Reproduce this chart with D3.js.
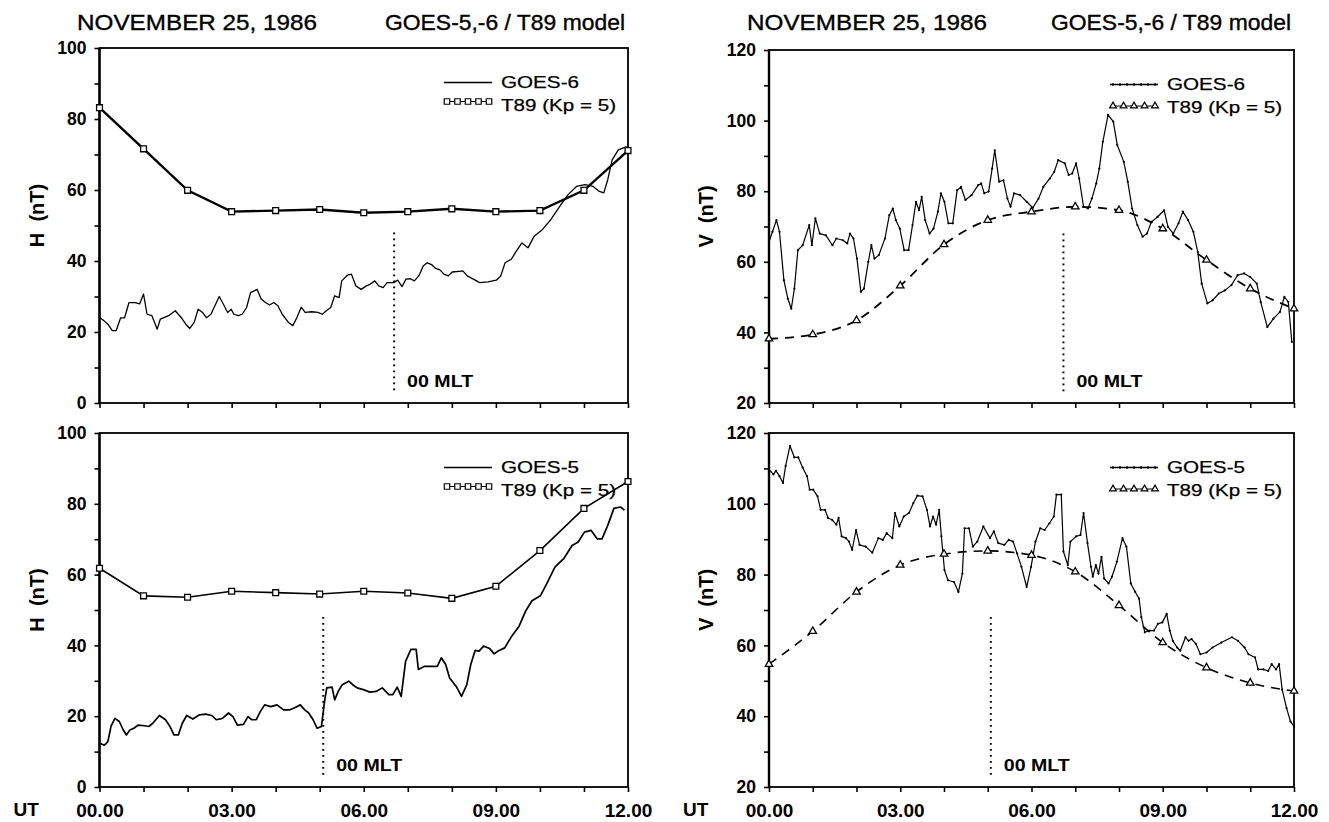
<!DOCTYPE html>
<html>
<head>
<meta charset="utf-8">
<script src="https://cdn.jsdelivr.net/npm/d3@7"></script>
<style>
  body { margin: 0; background: #fff; }
  svg { display: block; font-family: "Liberation Sans", Arial, Helvetica, sans-serif; }
</style>
</head>
<body>
<div id="chart"></div>
<script>
// ---- Daten ----
const hourTicks = [0, 1, 2, 3, 4, 5, 6, 7, 8, 9, 10, 11, 12];
const hourLabels = [0, 3, 6, 9, 12];
const hTicks = [0, 10, 20, 30, 40, 50, 60, 70, 80, 90, 100];
const vTicks = [20, 30, 40, 50, 60, 70, 80, 90, 100, 110, 120];

const t89Hours = [0, 1, 2, 3, 4, 5, 6, 7, 8, 9, 10, 11, 12];
const t89H6 = [83.2, 71.6, 59.9, 53.9, 54.2, 54.5, 53.6, 53.9, 54.7, 53.9, 54.2, 59.9, 71.1];
const t89H5 = [61.8, 54.0, 53.6, 55.3, 54.9, 54.5, 55.3, 54.8, 53.3, 56.7, 66.8, 78.7, 86.3];
const t89V6 = [38.2, 39.4, 43.4, 53.2, 64.9, 71.8, 74.2, 75.6, 74.6, 69.4, 60.5, 52.4, 46.7];
const t89V5 = [54.7, 64.0, 75.1, 82.7, 85.8, 86.7, 85.5, 80.8, 71.3, 60.8, 53.7, 49.4, 47.1];

// [UT Stunde, nT]
const goes6H = [[0,24.1],[0.10,23.2],[0.19,22.2],[0.29,20.4],[0.38,20.4],[0.48,24.0],[0.57,24.0],[0.67,28.3],[0.81,28.3],[0.91,27.9],[1.00,30.7],[1.08,25.0],[1.19,24.6],[1.31,20.8],[1.38,23.6],[1.57,24.6],[1.72,26.0],[1.86,24.0],[1.96,22.2],[2.05,21.0],[2.15,22.7],[2.24,26.4],[2.34,25.5],[2.43,24.0],[2.53,25.0],[2.62,27.4],[2.72,30.0],[2.81,27.9],[2.91,25.5],[2.99,26.4],[3.05,25.0],[3.15,24.6],[3.24,25.0],[3.34,26.9],[3.43,31.1],[3.58,32.0],[3.67,29.3],[3.77,28.3],[3.86,27.6],[3.96,28.3],[4.05,27.4],[4.15,25.0],[4.29,22.7],[4.39,21.8],[4.48,24.0],[4.58,27.0],[4.67,25.5],[4.82,25.7],[4.96,25.5],[5.06,25.0],[5.15,26.0],[5.25,26.9],[5.34,30.2],[5.44,29.7],[5.50,34.4],[5.63,36.0],[5.72,36.3],[5.82,33.0],[5.94,32.0],[6.06,33.0],[6.15,33.5],[6.25,34.4],[6.34,33.0],[6.44,32.5],[6.53,33.9],[6.68,33.9],[6.77,34.6],[6.87,32.8],[6.96,34.9],[7.06,35.0],[7.15,34.4],[7.25,35.8],[7.35,38.6],[7.44,39.5],[7.54,39.0],[7.63,37.9],[7.73,37.5],[7.82,36.3],[7.92,35.8],[8.01,36.9],[8.16,37.1],[8.25,37.2],[8.35,35.8],[8.49,34.9],[8.63,33.9],[8.82,34.1],[9.01,34.6],[9.11,35.8],[9.21,39.5],[9.35,40.5],[9.44,42.3],[9.59,45.1],[9.73,43.7],[9.87,47.0],[10.06,48.9],[10.25,51.7],[10.45,55.4],[10.64,58.7],[10.83,61.0],[11.02,61.5],[11.21,61.0],[11.35,59.6],[11.45,59.2],[11.54,62.9],[11.64,68.5],[11.78,71.3],[11.88,71.8],[11.97,72.2]];

const goes5H = [[0.02,12.3],[0.11,11.8],[0.19,12.8],[0.26,17.1],[0.35,19.4],[0.45,18.5],[0.54,16.1],[0.61,14.7],[0.69,16.1],[0.78,16.6],[0.88,17.5],[1.02,17.3],[1.12,17.1],[1.21,18.0],[1.36,20.2],[1.50,19.0],[1.60,17.1],[1.69,14.7],[1.79,14.7],[1.88,18.0],[1.98,20.2],[2.12,19.2],[2.27,20.4],[2.41,20.6],[2.55,20.2],[2.65,19.0],[2.79,19.4],[2.93,20.9],[3.03,19.9],[3.13,17.5],[3.27,17.7],[3.37,19.9],[3.46,19.0],[3.56,19.0],[3.65,21.3],[3.75,23.2],[3.89,22.7],[4.03,23.2],[4.18,21.8],[4.32,21.8],[4.42,22.3],[4.56,23.2],[4.66,21.8],[4.75,20.9],[4.85,19.0],[4.94,16.6],[5.04,17.1],[5.11,24.2],[5.16,28.0],[5.28,28.2],[5.34,24.6],[5.42,27.0],[5.51,28.9],[5.66,29.9],[5.75,28.9],[5.85,28.0],[5.99,27.5],[6.14,26.8],[6.28,27.0],[6.42,28.0],[6.57,26.1],[6.66,26.1],[6.76,28.2],[6.85,25.6],[6.95,35.5],[7.07,38.9],[7.19,38.9],[7.24,33.2],[7.38,34.1],[7.52,34.1],[7.67,34.1],[7.76,36.5],[7.86,34.6],[7.95,30.8],[8.10,28.4],[8.22,25.6],[8.34,28.9],[8.43,34.6],[8.53,38.6],[8.62,38.4],[8.72,39.8],[8.86,39.1],[8.96,37.6],[9.05,38.4],[9.20,39.3],[9.34,42.2],[9.53,45.5],[9.68,49.8],[9.82,52.6],[10.01,54.0],[10.15,57.3],[10.34,62.1],[10.54,64.5],[10.73,68.2],[10.87,69.2],[11.01,72.0],[11.16,72.5],[11.30,70.1],[11.41,70.1],[11.54,73.9],[11.68,78.7],[11.83,79.1],[11.92,78.2]];

const goes6V = [[0,65.7],[0.08,68.5],[0.17,71.8],[0.24,68.5],[0.34,54.8],[0.43,49.6],[0.51,46.7],[0.58,52.4],[0.66,63.3],[0.77,64.7],[0.92,70.4],[0.98,64.7],[1.06,72.3],[1.16,68.0],[1.30,67.5],[1.45,64.7],[1.54,66.6],[1.69,66.1],[1.79,65.2],[1.85,68.0],[1.93,66.6],[2.01,60.9],[2.10,51.5],[2.17,52.4],[2.27,60.0],[2.34,64.7],[2.41,60.9],[2.51,61.9],[2.65,66.6],[2.75,73.2],[2.83,75.1],[2.90,71.8],[2.99,69.4],[3.09,63.3],[3.19,63.3],[3.28,70.4],[3.36,77.0],[3.43,74.6],[3.49,78.4],[3.57,71.8],[3.67,68.0],[3.76,69.4],[3.86,74.2],[3.93,79.4],[4.01,77.0],[4.10,70.9],[4.20,70.9],[4.30,80.3],[4.39,81.2],[4.49,77.5],[4.63,78.9],[4.78,81.7],[4.85,82.2],[4.92,79.4],[5.02,79.9],[5.10,86.4],[5.16,91.6],[5.26,82.7],[5.36,83.1],[5.45,77.9],[5.52,75.6],[5.60,79.4],[5.74,78.9],[5.89,77.0],[6.03,75.3],[6.16,77.9],[6.27,81.2],[6.42,83.6],[6.52,85.5],[6.61,88.8],[6.76,87.9],[6.85,84.6],[6.93,85.0],[7.02,87.9],[7.09,83.6],[7.19,75.6],[7.29,75.1],[7.38,77.9],[7.48,82.2],[7.55,86.4],[7.63,94.0],[7.75,101.6],[7.87,99.7],[7.96,93.1],[8.11,88.3],[8.20,82.7],[8.30,75.1],[8.42,70.4],[8.54,67.1],[8.64,68.0],[8.74,71.3],[8.88,72.7],[9.03,74.6],[9.12,69.9],[9.24,68.0],[9.36,70.9],[9.46,74.2],[9.58,71.8],[9.70,68.5],[9.80,62.8],[9.89,53.8],[10.02,48.2],[10.14,49.1],[10.28,51.0],[10.42,51.9],[10.57,53.4],[10.71,56.2],[10.86,56.7],[11.00,55.7],[11.15,53.8],[11.24,48.6],[11.39,41.5],[11.53,43.9],[11.68,45.8],[11.78,50.1],[11.87,48.6],[11.95,37.3]];

const goes5V = [[0,109.7],[0.10,108.3],[0.16,109.3],[0.24,107.8],[0.32,105.9],[0.38,110.7],[0.48,116.4],[0.58,113.1],[0.67,113.1],[0.77,110.2],[0.87,107.8],[0.93,104.0],[1.01,104.0],[1.11,102.1],[1.18,98.3],[1.28,98.3],[1.35,96.0],[1.44,95.5],[1.54,94.1],[1.59,96.0],[1.66,90.8],[1.76,90.3],[1.83,89.3],[1.90,87.0],[1.99,92.6],[2.07,88.4],[2.21,87.9],[2.36,86.2],[2.50,90.3],[2.60,89.8],[2.69,91.7],[2.82,90.3],[2.88,97.4],[2.98,93.6],[3.08,96.4],[3.20,97.4],[3.30,100.2],[3.39,102.3],[3.51,102.1],[3.61,98.3],[3.68,93.6],[3.75,96.4],[3.82,94.1],[3.89,98.3],[3.94,90.8],[4.01,81.3],[4.09,78.4],[4.23,77.9],[4.33,75.1],[4.42,80.3],[4.47,93.1],[4.57,93.1],[4.66,87.9],[4.76,89.3],[4.90,93.6],[5.05,90.3],[5.14,92.2],[5.24,88.9],[5.38,88.4],[5.48,89.8],[5.58,89.3],[5.67,86.0],[5.77,82.2],[5.89,76.5],[5.99,82.2],[6.09,89.3],[6.20,93.1],[6.30,92.6],[6.41,94.5],[6.51,96.4],[6.57,102.6],[6.68,102.6],[6.73,86.5],[6.83,82.7],[6.89,89.3],[7.02,90.8],[7.12,91.2],[7.19,97.4],[7.28,88.9],[7.36,82.2],[7.40,79.4],[7.47,82.7],[7.53,80.3],[7.60,85.0],[7.66,78.9],[7.76,77.5],[7.84,79.4],[7.95,83.6],[8.08,90.3],[8.17,87.9],[8.27,77.5],[8.37,75.1],[8.46,73.2],[8.51,68.0],[8.59,63.7],[8.70,64.2],[8.80,64.2],[8.89,66.1],[8.99,66.5],[9.09,68.9],[9.16,64.2],[9.23,61.3],[9.33,59.4],[9.40,58.5],[9.52,62.3],[9.59,61.3],[9.66,61.8],[9.76,60.4],[9.86,57.5],[10.00,58.0],[10.14,59.4],[10.34,60.8],[10.58,62.3],[10.72,61.3],[10.87,59.4],[10.96,57.5],[11.11,56.6],[11.18,53.2],[11.30,53.2],[11.41,52.8],[11.49,54.7],[11.59,53.2],[11.66,54.7],[11.73,47.5],[11.83,42.3],[11.92,38.5],[12.00,37.1]];

// 00 MLT Zeitpunkte (UT) je Panel
const mltHours = [6.69, 6.73, 5.08, 5.07];

const titleLeft = "NOVEMBER 25, 1986";
const titleRight = "GOES-5,-6 / T89 model";
const modelLabel = "T89 (Kp = 5)";

// ---- Layout ----
const W = 1329, H = 822;
const FONT = "'Liberation Sans', Arial, sans-serif";
const panels = [
  { x0: 99.5, x1: 628, y0: 48, y1: 403, dom: [0, 100], ticks: hTicks, yLab: "H\u00a0\u00a0(nT)", goes: goes6H, goesName: "GOES-6", t89: t89H6, kind: "H", xLabels: false, goesW: 1.3, t89W: 2.4 },
  { x0: 769, x1: 1294, y0: 50, y1: 403, dom: [20, 120], ticks: vTicks, yLab: "V\u00a0\u00a0(nT)", goes: goes6V, goesName: "GOES-6", t89: t89V6, kind: "V", xLabels: false, goesW: 1.2, t89W: 1.8 },
  { x0: 99.5, x1: 628, y0: 433, y1: 787, dom: [0, 100], ticks: hTicks, yLab: "H\u00a0\u00a0(nT)", goes: goes5H, goesName: "GOES-5", t89: t89H5, kind: "H", xLabels: true, goesW: 1.7, t89W: 1.6 },
  { x0: 769, x1: 1294, y0: 433, y1: 787, dom: [20, 120], ticks: vTicks, yLab: "V\u00a0\u00a0(nT)", goes: goes5V, goesName: "GOES-5", t89: t89V5, kind: "V", xLabels: true, goesW: 1.2, t89W: 1.6 }
];

const svg = d3.select("#chart").append("svg").attr("width", W).attr("height", H);

// Titel
function titleRow(left, right) {
  svg.append("text").attr("x", left).attr("y", 30)
    .attr("font-size", 22).attr("stroke", "#000").attr("stroke-width", 0.35)
    .attr("textLength", 240).attr("lengthAdjust", "spacingAndGlyphs")
    .text(titleLeft);
  svg.append("text").attr("x", right).attr("y", 30).attr("text-anchor", "end")
    .attr("font-size", 22).attr("stroke", "#000").attr("stroke-width", 0.35)
    .attr("textLength", 240).attr("lengthAdjust", "spacingAndGlyphs")
    .text(titleRight);
}
titleRow(77, 625);
titleRow(747, 1291);

panels.forEach((p, i) => {
  const x = d3.scaleLinear().domain([0, 12]).range([p.x0, p.x1]);
  const y = d3.scaleLinear().domain(p.dom).range([p.y1, p.y0]);
  const g = svg.append("g");

  // Rahmen
  g.append("rect").attr("x", p.x0).attr("y", p.y0)
    .attr("width", p.x1 - p.x0).attr("height", p.y1 - p.y0)
    .attr("fill", "none").attr("stroke", "#000").attr("stroke-width", 1.8);
  g.append("line").attr("x1", p.x0).attr("x2", p.x0).attr("y1", p.y0).attr("y2", p.y1)
    .attr("stroke", "#000").attr("stroke-width", 2.4);

  // Achsen
  g.append("g").attr("transform", `translate(${p.x0},0)`)
    .call(d3.axisLeft(y).tickValues(p.ticks).tickSize(5).tickPadding(8)
      .tickFormat(d => (d % 20 === 0 ? d : "")))
    .call(a => a.select(".domain").remove())
    .call(a => a.selectAll("line").attr("stroke-width", 1.6))
    .call(a => a.selectAll("text").attr("font-size", 17.5).attr("font-weight", "bold")
      .attr("font-family", FONT).attr("fill", "#000"));

  g.append("g").attr("transform", `translate(0,${p.y1})`)
    .call(d3.axisBottom(x).tickValues(hourTicks).tickSize(5).tickPadding(12)
      .tickFormat(d => (p.xLabels && hourLabels.includes(d) ? String(d).padStart(2, "0") + ".00" : "")))
    .call(a => a.select(".domain").remove())
    .call(a => a.selectAll("line").attr("stroke-width", 1.6))
    .call(a => a.selectAll("text").attr("font-size", 19).attr("font-weight", "bold")
      .attr("font-family", FONT).attr("fill", "#000"));

  if (p.xLabels) {
    svg.append("text").attr("x", p.x0 - 86).attr("y", 816)
      .attr("font-size", 19).attr("font-weight", "bold").text("UT");
  }

  // Y-Label
  svg.append("text")
    .attr("transform", `translate(${p.x0 - 56},${(p.y0 + p.y1) / 2 - 10}) rotate(-90)`)
    .attr("text-anchor", "middle").attr("font-size", 20).attr("font-weight", "bold")
    .text(p.yLab);

  // 00 MLT
  const span = p.dom[1] - p.dom[0];
  const mx = x(mltHours[i]);
  g.append("line").attr("x1", mx).attr("x2", mx)
    .attr("y1", y(p.dom[0] + span * 0.48)).attr("y2", y(p.dom[0] + span * 0.025))
    .attr("stroke", "#000").attr("stroke-width", 2)
    .attr("stroke-dasharray", "1.6,4.4");
  g.append("text").attr("x", mx + 13).attr("y", p.y1 - 16)
    .attr("font-size", 16.5).attr("font-weight", "bold")
    .attr("textLength", 66).attr("lengthAdjust", "spacingAndGlyphs")
    .text("00 MLT");

  const model = t89Hours.map((h, k) => [h, p.t89[k]]);

  // T89 Kurve
  if (p.kind === "H") {
    g.append("path").datum(model)
      .attr("d", d3.line().x(d => x(d[0])).y(d => y(d[1])))
      .attr("fill", "none").attr("stroke", "#000").attr("stroke-width", p.t89W);
  } else {
    g.append("path").datum(model)
      .attr("d", d3.line().x(d => x(d[0])).y(d => y(d[1])).curve(d3.curveMonotoneX))
      .attr("fill", "none").attr("stroke", "#000").attr("stroke-width", p.t89W)
      .attr("stroke-dasharray", "9,7");
  }

  // GOES Messung
  g.append("path").datum(p.goes)
    .attr("d", d3.line().x(d => x(d[0])).y(d => y(d[1])))
    .attr("fill", "none").attr("stroke", "#000").attr("stroke-width", p.goesW)
    .attr("stroke-linejoin", "round");
  if (p.kind === "V") {
    g.append("g").selectAll("circle").data(p.goes).join("circle")
      .attr("cx", d => x(d[0])).attr("cy", d => y(d[1])).attr("r", 1.1).attr("fill", "#000");
  }

  // T89 Symbole
  const sym = p.kind === "H"
    ? d3.symbol().type(d3.symbolSquare).size(34)
    : d3.symbol().type(d3.symbolTriangle).size(24);
  g.append("g").selectAll("path").data(model).join("path")
    .attr("transform", d => `translate(${x(d[0])},${y(d[1])})`)
    .attr("d", sym).attr("fill", "#fff").attr("stroke", "#000").attr("stroke-width", 1.3);

  // Legende
  const R = p.x1;
  const lg = svg.append("g");
  const rowY = p.kind === "H" ? p.y0 + 53.5 : p.y0 + 56;
  lg.append("line").attr("x1", R - 184).attr("x2", R - 136)
    .attr("y1", p.y0 + 34.5).attr("y2", p.y0 + 34.5)
    .attr("stroke", "#000").attr("stroke-width", p.kind === "H" ? p.goesW : 1.5);
  if (p.kind === "V") {
    lg.selectAll("circle").data(d3.range(R - 181, R - 136, 7)).join("circle")
      .attr("cx", d => d).attr("cy", p.y0 + 34.5).attr("r", 1.2).attr("fill", "#000");
  }
  lg.append("text").attr("x", R - 127).attr("y", p.y0 + 39.5)
    .attr("font-size", 17).attr("stroke", "#000").attr("stroke-width", 0.25)
    .attr("textLength", 78).attr("lengthAdjust", "spacingAndGlyphs")
    .text(p.goesName);
  const marks = [0, 1, 2, 3, 4].map(k => R - 181 + k * 10.5);
  lg.append("line").attr("x1", marks[0]).attr("x2", marks[4])
    .attr("y1", rowY).attr("y2", rowY).attr("stroke", "#000").attr("stroke-width", 1);
  const lsym = p.kind === "H"
    ? d3.symbol().type(d3.symbolSquare).size(30)
    : d3.symbol().type(d3.symbolTriangle).size(20);
  lg.selectAll("path.m").data(marks).join("path").attr("class", "m")
    .attr("transform", d => `translate(${d},${rowY})`)
    .attr("d", lsym).attr("fill", "#fff").attr("stroke", "#000").attr("stroke-width", 1.2);
  lg.append("text").attr("x", R - 127).attr("y", p.y0 + 62.5)
    .attr("font-size", 17).attr("stroke", "#000").attr("stroke-width", 0.25)
    .attr("textLength", 115).attr("lengthAdjust", "spacingAndGlyphs")
    .text(modelLabel);
});
</script>
</body>
</html>
